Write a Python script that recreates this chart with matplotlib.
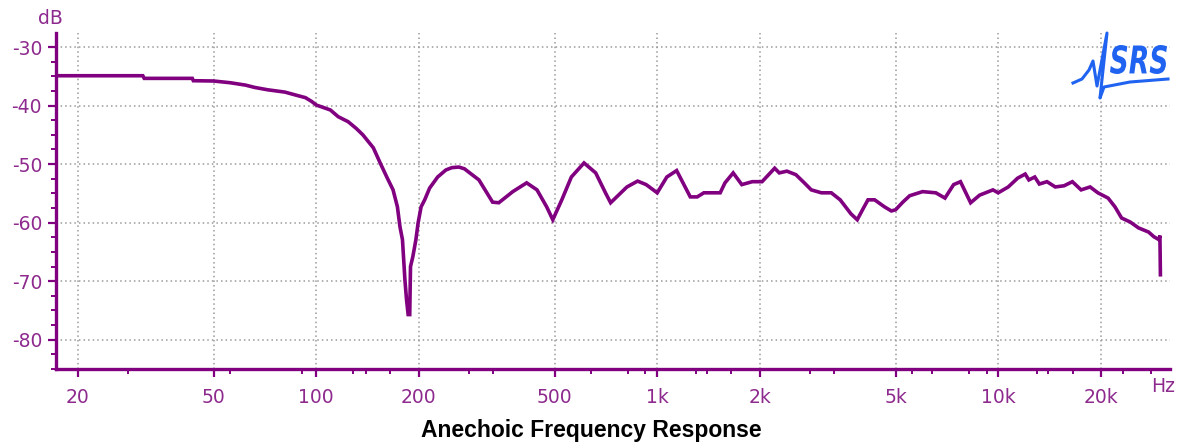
import numpy as np
import matplotlib
matplotlib.use("Agg")
import matplotlib.pyplot as plt
from matplotlib.ticker import FixedLocator, NullFormatter
from matplotlib.textpath import TextPath
from matplotlib.font_manager import FontProperties
from matplotlib.patches import PathPatch
from matplotlib.transforms import Affine2D
from matplotlib.lines import Line2D

# ---- data ----
freq_hz = [17.3, 31, 31.3, 43.3, 43.6, 50, 56, 62, 66, 72, 81, 87, 93, 97, 100,
           110, 116, 124, 131, 137, 147, 154, 161, 168, 173, 176, 179, 182, 184,
           186, 188, 189, 192, 196, 199, 203, 208, 215, 227, 240, 250, 262, 272,
           300, 329, 343, 377, 414, 444, 474, 494, 525, 560, 610, 660, 705, 730,
           815, 876, 928, 1000, 1067, 1140, 1190, 1250, 1310, 1370, 1530, 1580,
           1670, 1770, 1900, 2030, 2210, 2280, 2400, 2550, 2700, 2830, 3030, 3240,
           3440, 3700, 3860, 4000, 4150, 4340, 4640, 4860, 5000, 5250, 5500, 6000,
           6560, 6980, 7400, 7750, 8300, 8820, 9650, 10000, 10700, 11400, 12000,
           12300, 12800, 13200, 13900, 14700, 15600, 16500, 17500, 18600, 19600,
           21000, 22000, 23000, 24400, 25800, 27600, 28600, 29600, 29800, 29900]
level_db = [-34.9, -34.9, -35.35, -35.35, -35.75, -35.8, -36.1, -36.5, -36.9, -37.3,
            -37.7, -38.2, -38.65, -39.3, -39.9, -40.75, -41.9, -42.75, -43.9, -45.0,
            -47.2, -49.8, -52.2, -54.4, -57.3, -60.7, -62.9, -69.8, -73.2, -75.7,
            -75.7, -67.5, -65.8, -62.9, -60.0, -57.3, -56.1, -54.1, -52.2, -51.0,
            -50.6, -50.5, -50.8, -52.7, -56.5, -56.6, -54.7, -53.2, -54.4, -57.3,
            -59.5, -56.1, -52.2, -49.8, -51.5, -54.9, -56.6, -53.9, -52.9, -53.5,
            -54.9, -52.2, -51.1, -53.2, -55.6, -55.6, -54.9, -54.9, -53.2, -51.5,
            -53.5, -53.0, -53.0, -50.7, -51.5, -51.2, -51.8, -53.2, -54.4, -54.9,
            -54.9, -56.1, -58.5, -59.5, -57.8, -56.1, -56.1, -57.3, -58.0, -57.8,
            -56.5, -55.4, -54.7, -54.9, -55.8, -53.5, -53.0, -56.6, -55.3, -54.4,
            -54.9, -53.9, -52.4, -51.7, -52.7, -52.2, -53.4, -53.0, -53.9, -53.7,
            -53.0, -54.4, -53.9, -54.9, -55.8, -57.3, -59.2, -59.9, -60.9, -61.6,
            -62.4, -62.9, -62.2, -68.9]

x_ticks = [20, 50, 100, 200, 500, 1000, 2000, 5000, 10000, 20000]
x_tick_labels = ["20", "50", "100", "200", "500", "1k", "2k", "5k", "10k", "20k"]
x_minor = [28, 56, 91, 128, 140, 164, 280, 330, 640, 820, 920, 1300, 1400, 1650,
           2800, 3300, 5600, 6400, 8200, 9270, 13000, 14000, 16600, 23200, 28000]
y_ticks = [-30, -40, -50, -60, -70, -80]
y_tick_labels = ["-30", "-40", "-50", "-60", "-70", "-80"]
y_minor = list(np.arange(-85, -27, 2.5))

title = "Anechoic Frequency Response"

# ---- figure ----
W, H = 1186, 442
fig = plt.figure(figsize=(W / 100, H / 100), dpi=100)
ax = fig.add_axes([56 / W, 73 / H, (1170 - 56) / W, (369 - 33) / H])

purple = "#800080"
label_c = "#8e2a8e"

ax.semilogx(freq_hz, level_db, color=purple, lw=2.6, solid_joinstyle="miter", zorder=3)
ax.set_xlim(17.25, 31900)
ax.set_ylim(-85, -27.6)

ax.xaxis.set_major_locator(FixedLocator(x_ticks))
ax.set_xticklabels(x_tick_labels)
ax.xaxis.set_minor_locator(FixedLocator(x_minor))
ax.xaxis.set_minor_formatter(NullFormatter())
ax.set_yticks(y_ticks)
ax.set_yticklabels(y_tick_labels)
ax.yaxis.set_minor_locator(FixedLocator(y_minor))

for s in ["top", "right"]:
    ax.spines[s].set_visible(False)
for s in ["left", "bottom"]:
    ax.spines[s].set_color(purple)
    ax.spines[s].set_linewidth(2.4)

ax.tick_params(which="major", direction="out", length=6, width=1.6, color=purple,
               labelcolor=label_c, labelsize=13.5)
ax.tick_params(which="minor", direction="out", length=3.5, width=1.4, color=purple)
ax.tick_params(axis="y", which="major", pad=4)
ax.tick_params(axis="x", which="major", pad=8)

ax.grid(True, which="major", color="#9a9a9a", linestyle=(0, (1, 2)), linewidth=1.1)

fig.text(50 / W, 1 - 18 / H, "dB", color=label_c, fontsize=13.5, ha="center", va="center")
fig.text(1163 / W, 1 - 387 / H, "Hz", color=label_c, fontsize=13.5, ha="center", va="center")
fig.text(591 / W, 1 - 430 / H, title, color="black", fontsize=16.5, fontweight="bold",
         family="Liberation Sans", ha="center", va="center")

# ---- SRS logo (decoration) ----
blue = "#1f63f0"
fp = FontProperties(family="DejaVu Sans", weight="bold", style="italic")
tp = TextPath((0, 0), "SRS", prop=fp, size=1)
ext = tp.get_extents()
sx = (1167 - 1110) / ext.width
sy = (74 - 45) / ext.height
tr = Affine2D().translate(-ext.x0, -ext.y0).scale(sx, sy).translate(1110, H - 74)
fig.patches.append(PathPatch(tr.transform_path(tp), facecolor=blue, edgecolor="none",
                             transform=None, zorder=10))
wx = [1073, 1082, 1089, 1093, 1097, 1107, 1100, 1104, 1130, 1168]
wy = [83, 79, 70, 61, 86, 33, 98, 87, 82, 79]
fig.lines.append(Line2D(wx, [H - v for v in wy], color=blue, lw=2.2, transform=None,
                        zorder=10, solid_joinstyle="round"))

fig.savefig("out.png", dpi=100)
